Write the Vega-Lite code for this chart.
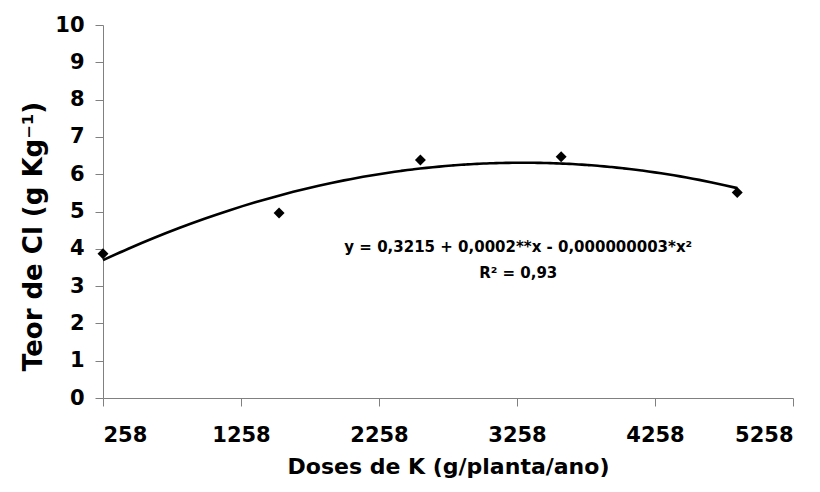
{
  "$schema": "https://vega.github.io/schema/vega-lite/v6.json",
  "autosize": "none",
  "width": 690,
  "height": 373,
  "padding": {"left": 103, "top": 25, "right": 27, "bottom": 94},
  "background": "white",
  "config": {
    "view": {"stroke": null},
    "font": "DejaVu Sans",
    "axis": {
      "grid": false,
      "domainColor": "#808080",
      "tickColor": "#808080",
      "domainWidth": 1,
      "tickWidth": 1,
      "tickSize": 8,
      "labelOverlap": false,
      "labelFont": "DejaVu Sans",
      "labelFontWeight": "bold",
      "labelFontSize": 21,
      "labelColor": "black",
      "titleFont": "DejaVu Sans",
      "titleFontWeight": "bold",
      "titleColor": "black"
    }
  },
  "data": {
    "values": [
      {"dose": 258, "teor": 3.87},
      {"dose": 1534, "teor": 4.96},
      {"dose": 2558, "teor": 6.38},
      {"dose": 3578, "teor": 6.47},
      {"dose": 4854, "teor": 5.51}
    ]
  },
  "encoding": {
    "x": {
      "field": "dose",
      "type": "quantitative",
      "scale": {"domain": [258, 5258], "nice": false, "zero": false},
      "axis": {
        "values": [258, 1258, 2258, 3258, 4258, 5258],
        "format": "d",
        "labelPadding": 18,
        "title": "Doses de K (g/planta/ano)",
        "titleFontSize": 22,
        "titlePadding": 11
      }
    },
    "y": {
      "field": "teor",
      "type": "quantitative",
      "scale": {"domain": [0, 10], "nice": false},
      "axis": {
        "values": [0, 1, 2, 3, 4, 5, 6, 7, 8, 9, 10],
        "tickCount": 11,
        "format": "d",
        "labelPadding": 11,
        "title": "Teor de Cl (g Kg⁻¹)",
        "titleFontSize": 26,
        "titleAngle": -90,
        "titleX": -70,
        "titleY": 211,
        "titleAlign": "center",
        "titleBaseline": "middle"
      }
    }
  },
  "layer": [
    {
      "transform": [
        {"regression": "teor", "on": "dose", "method": "poly", "order": 2, "extent": [258, 4854]}
      ],
      "mark": {"type": "line", "color": "black", "strokeWidth": 2.6, "interpolate": "monotone"}
    },
    {
      "mark": {"type": "point", "shape": "diamond", "filled": true, "color": "black", "opacity": 1, "size": 120}
    },
    {
      "data": {"values": [
        {"dose": 3267, "teor": 3.92, "rotulo": "y = 0,3215 + 0,0002**x - 0,000000003*x²"},
        {"dose": 3267, "teor": 3.23, "rotulo": "R² = 0,93"}
      ]},
      "mark": {"type": "text", "font": "DejaVu Sans", "fontWeight": "bold", "fontSize": 15, "align": "center", "baseline": "alphabetic", "color": "black"},
      "encoding": {
        "text": {"field": "rotulo", "type": "nominal"}
      }
    }
  ]
}
